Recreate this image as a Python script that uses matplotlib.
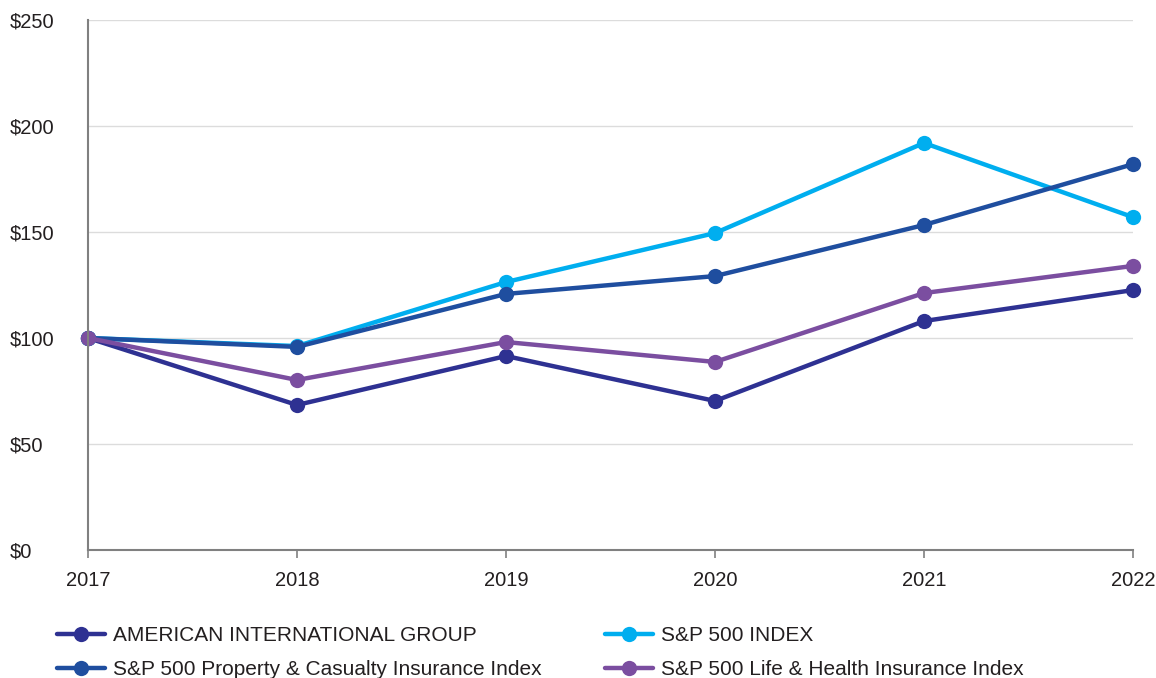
import matplotlib
matplotlib.use('Agg')
import matplotlib.pyplot as plt

plt.rcParams['font.family'] = ['Liberation Sans', 'DejaVu Sans']

YEARS = ['2017', '2018', '2019', '2020', '2021', '2022']
AIG = [100, 68.4, 91.5, 70.3, 108.0, 122.6]
SP500 = [100, 96.2, 126.4, 149.5, 192.0, 157.0]
PC_INDEX = [100, 95.8, 120.8, 129.2, 153.3, 182.0]
LH_INDEX = [100, 80.2, 98.1, 88.7, 121.2, 134.0]

SERIES = [
    ('AMERICAN INTERNATIONAL GROUP', AIG, '#2E3192'),
    ('S&P 500 INDEX', SP500, '#00AEEF'),
    ('S&P 500 Property & Casualty Insurance Index', PC_INDEX, '#1F4E9F'),
    ('S&P 500 Life & Health Insurance Index', LH_INDEX, '#7B4EA0'),
]

fig = plt.figure(figsize=(11.56, 6.78), dpi=100)
ax = fig.add_axes([88/1156, 1 - 550/678, (1133 - 88)/1156, (550 - 20)/678])

x = list(range(len(YEARS)))
handles = {}
for name, vals, col in SERIES:
    ln, = ax.plot(x, vals, color=col, lw=3.2, marker='o', markersize=11,
                  markeredgewidth=0, solid_capstyle='round', clip_on=False)
    handles[name] = ln

ax.set_xlim(0, len(YEARS) - 1)
ax.set_ylim(0, 250)
ax.set_yticks(range(0, 251, 50))
ax.set_yticklabels([f'${v}' for v in range(0, 251, 50)])
ax.set_xticks(x)
ax.set_xticklabels(YEARS)

ax.grid(axis='y', color='#DCDCDC', lw=1)
ax.set_axisbelow(True)
for s in ('top', 'right'):
    ax.spines[s].set_visible(False)
for s in ('left', 'bottom'):
    ax.spines[s].set_color('#808080')
    ax.spines[s].set_linewidth(1.5)
ax.tick_params(axis='y', length=0, pad=56, labelsize=14.5, labelcolor='#231F20')
ax.tick_params(axis='x', length=6, width=1.2, color='#808080', pad=9,
               labelsize=14.5, labelcolor='#231F20')
for lab in ax.get_yticklabels():
    lab.set_horizontalalignment('left')

# two legend columns placed by hand
cols = [(0.049, [SERIES[0][0], SERIES[2][0]]),
        (0.523, [SERIES[1][0], SERIES[3][0]])]
for xpos, names in cols:
    leg = fig.legend([handles[n] for n in names], names, loc='upper left',
                     bbox_to_anchor=(xpos, 0.076), frameon=False,
                     fontsize=15, handlelength=2.3, handletextpad=0.4,
                     labelspacing=0.72, borderpad=0, borderaxespad=0)
    for t in leg.get_texts():
        t.set_color('#231F20')

fig.savefig('out.png', dpi=100)
